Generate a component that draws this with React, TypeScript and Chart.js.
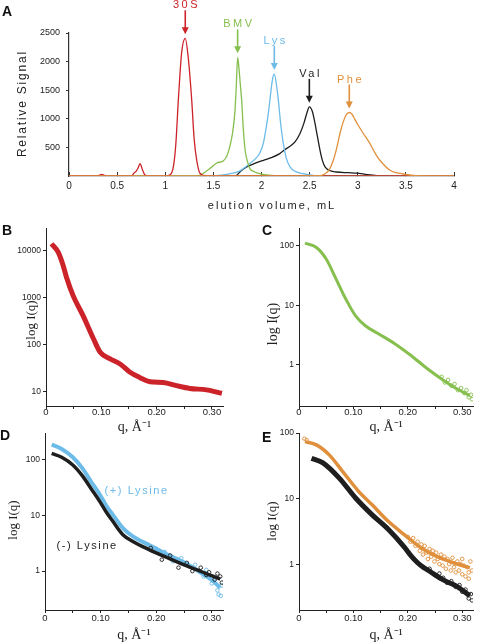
import React, { useEffect, useRef } from 'react';
import { Chart, registerables } from 'chart.js';
Chart.register(...registerables);

const SANS = '"Liberation Sans", Arial, Helvetica, sans-serif';
const SERIF = '"Liberation Serif", "Times New Roman", serif';
const RED = '#cc2229';
const GREEN = '#86bf4e';
const BLUE = '#6cbbe8';
const ORANGE = '#e0903c';
const BLACK = '#1e1e1e';
const INK = '#222';

// ---------- Panel A: elution profiles ----------
const elutionTicks = [0, 0.5, 1, 1.5, 2, 2.5, 3, 3.5, 4];
const signalTicks = [500, 1000, 1500, 2000, 2500];

const s30Vol = [0, 0.28, 0.315, 0.34, 0.365, 0.4, 0.65, 0.675, 0.7, 0.72, 0.738, 0.765, 0.79, 0.83, 1.0, 1.05, 1.084, 1.11, 1.136, 1.17, 1.208, 1.24, 1.275, 1.3, 1.327, 1.36, 1.42, 1.6, 4.0];
const s30Sig = [4, 4, 12, 30, 12, 3, 3, 50, 90, 150, 215, 100, 15, 3, 3, 20, 158, 560, 1326, 2150, 2407, 2050, 1326, 650, 275, 50, 5, 0, 0];

const bmvVol = [0, 1.3, 1.35, 1.42, 1.465, 1.535, 1.6, 1.64, 1.67, 1.7, 1.725, 1.74, 1.752, 1.765, 1.78, 1.794, 1.81, 1.83, 1.86, 1.88, 1.93, 1.98, 2.1, 2.3, 4.0];
const bmvSig = [0, 0, 10, 75, 130, 228, 260, 350, 508, 760, 1151, 1650, 2074, 1900, 1600, 1326, 850, 450, 220, 130, 70, 40, 10, 0, 0];

const lysVol = [0, 1.5, 1.6, 1.7, 1.76, 1.82, 1.88, 1.93, 1.98, 2.02, 2.05, 2.075, 2.095, 2.115, 2.133, 2.155, 2.175, 2.2, 2.227, 2.26, 2.296, 2.35, 2.43, 2.55, 2.7, 4.0];
const lysSig = [0, 0, 20, 50, 75, 140, 217, 290, 392, 580, 858, 1150, 1444, 1700, 1782, 1600, 1326, 900, 567, 300, 158, 80, 40, 8, 0, 0];

const valVol = [0, 1.7, 1.74, 1.78, 1.846, 1.93, 2.02, 2.1, 2.19, 2.25, 2.296, 2.35, 2.4, 2.44, 2.47, 2.497, 2.53, 2.556, 2.58, 2.608, 2.635, 2.66, 2.7, 2.78, 2.9, 2.99, 3.1, 3.2, 3.3, 4.0];
const valSig = [0, 0, 10, 80, 158, 220, 275, 320, 392, 470, 520, 600, 743, 920, 1093, 1209, 1120, 918, 700, 450, 260, 158, 100, 70, 58, 50, 25, 8, 0, 0];

const pheVol = [0, 2.4, 2.6, 2.66, 2.7, 2.746, 2.78, 2.815, 2.85, 2.88, 2.912, 2.94, 2.97, 3.0, 3.058, 3.127, 3.18, 3.23, 3.335, 3.47, 3.6, 4.0];
const pheSig = [3, 3, 5, 40, 100, 275, 480, 743, 950, 1070, 1110, 1080, 990, 900, 743, 567, 400, 275, 100, 35, 8, 3];

const peakLabels = ['30S', 'BMV', 'Lys', 'Val', 'Phe'];
const peakVol = [1.208, 1.752, 2.133, 2.497, 2.912];
const peakSig = [2407, 2074, 1782, 1209, 1110];
const peakColors = [RED, GREEN, BLUE, BLACK, ORANGE];

// ---------- Panels B-E: scattering curves ----------
const qTicks = [0, 0.05, 0.1, 0.15, 0.2, 0.25, 0.3];

const qB = [0.010, 0.022, 0.031, 0.037, 0.049, 0.067, 0.086, 0.098, 0.116, 0.134, 0.152, 0.170, 0.188, 0.212, 0.236, 0.260, 0.290, 0.318];
const iB = [13900, 9200, 4800, 2700, 1100, 414, 132, 69, 50, 39, 26, 20, 16.4, 15.8, 13.5, 11.8, 11, 9.3];
const ticksB = [10, 100, 1000, 10000];

const qC = [0.011, 0.032, 0.050, 0.068, 0.086, 0.104, 0.122, 0.146, 0.176, 0.206, 0.236, 0.266, 0.290, 0.314];
const iC = [111, 94, 60, 27.7, 12.7, 6.6, 4.5, 3.3, 2.25, 1.42, 0.85, 0.54, 0.39, 0.30];
const noiseQC = [0.262, 0.268, 0.274, 0.280, 0.286, 0.292, 0.298, 0.304, 0.308, 0.312, 0.316, 0.318];
const noiseIC = [0.62, 0.50, 0.55, 0.44, 0.47, 0.37, 0.40, 0.33, 0.37, 0.28, 0.31, 0.26];
const ticksCDE = [1, 10, 100];

const qDplus = [0.012, 0.03, 0.05, 0.068, 0.083, 0.098, 0.11, 0.122, 0.140, 0.158, 0.188, 0.219, 0.249, 0.279, 0.303, 0.315];
const iDplus = [186, 155, 110, 68, 40, 24, 15, 10.2, 5.9, 4.2, 2.9, 2.0, 1.45, 0.95, 0.65, 0.5];
const qDminus = [0.012, 0.03, 0.05, 0.068, 0.083, 0.098, 0.11, 0.122, 0.140, 0.158, 0.188, 0.219, 0.249, 0.279, 0.303, 0.315];
const iDminus = [129, 110, 80, 50, 30, 18, 11.5, 7.8, 4.5, 3.4, 2.4, 1.75, 1.3, 1.0, 0.8, 0.72];
const noiseQDplus = [0.20, 0.215, 0.23, 0.245, 0.26, 0.27, 0.285, 0.29, 0.30, 0.305, 0.31, 0.312, 0.316, 0.318];
const noiseIDplus = [2.5, 2.2, 1.5, 1.7, 1.2, 1.3, 0.8, 1.05, 0.6, 0.75, 0.45, 0.38, 0.36, 0.55];
const noiseQDminus = [0.19, 0.21, 0.225, 0.24, 0.255, 0.265, 0.28, 0.29, 0.295, 0.305, 0.31, 0.315, 0.318];
const noiseIDminus = [2.6, 1.6, 1.9, 1.15, 1.4, 1.0, 1.15, 0.85, 0.95, 0.7, 0.9, 0.8, 0.62];
const lysineNotes = ['(+) Lysine', '(-) Lysine'];
const lysineNoteQ = [0.107, 0.0205];
const lysineNoteI = [27.6, 2.8];
const lysineNoteColors = [BLUE, BLACK];

const qEphe = [0.011, 0.032, 0.056, 0.080, 0.110, 0.134, 0.164, 0.194, 0.224, 0.254, 0.284, 0.314];
const iEphe = [74, 66, 46, 26, 12.8, 8.1, 4.5, 2.8, 1.78, 1.3, 1.05, 0.88];
const qEapo = [0.023, 0.044, 0.074, 0.104, 0.134, 0.164, 0.194, 0.206, 0.218, 0.228, 0.236, 0.266, 0.290, 0.314];
const iEapo = [41, 35, 20.5, 10.2, 5.7, 3.4, 1.8, 1.34, 1.05, 0.9, 0.82, 0.57, 0.46, 0.33];
const noiseQEphe = [0.010, 0.014, 0.200, 0.205, 0.210, 0.214, 0.218, 0.222, 0.225, 0.228, 0.231, 0.234, 0.237, 0.240, 0.243, 0.246, 0.249, 0.252, 0.255, 0.258, 0.261, 0.264, 0.267, 0.270, 0.273, 0.276, 0.279, 0.282, 0.285, 0.288, 0.291, 0.294, 0.297, 0.300, 0.303, 0.306, 0.309, 0.312, 0.315, 0.318, 0.312, 0.300];
const noiseIEphe = [82, 78, 2.6, 2.2, 2.5, 1.9, 2.2, 1.6, 2.0, 1.4, 1.9, 1.5, 1.2, 1.7, 1.3, 1.6, 1.1, 1.5, 1.2, 1.0, 1.4, 0.95, 1.3, 0.85, 1.2, 1.0, 0.8, 1.25, 0.9, 0.75, 1.1, 0.8, 1.0, 0.7, 0.95, 0.65, 0.9, 0.75, 1.1, 0.8, 0.6, 1.2];
const noiseQEapo = [0.24, 0.25, 0.258, 0.265, 0.272, 0.28, 0.288, 0.295, 0.30, 0.306, 0.312, 0.316, 0.318];
const noiseIEapo = [0.85, 0.68, 0.72, 0.62, 0.52, 0.55, 0.45, 0.48, 0.38, 0.41, 0.30, 0.35, 0.28];

const pts = (xs: number[], ys: number[]) => xs.map((x, i) => ({ x, y: ys[i] }));

function spacedText(ctx: CanvasRenderingContext2D, text: string, cx: number, cy: number, spacing: number) {
  (ctx as any).letterSpacing = spacing + 'px';
  const w = ctx.measureText(text).width - spacing;
  ctx.textAlign = 'left';
  ctx.textBaseline = 'middle';
  ctx.fillText(text, cx - w / 2, cy);
  (ctx as any).letterSpacing = '0px';
}

function lineSet(data: any[], color: string, width: number) {
  return {
    data, showLine: true, borderColor: color, backgroundColor: color, borderWidth: width,
    pointRadius: 0, tension: 0.4, cubicInterpolationMode: 'monotone' as const,
  };
}
function noiseSet(data: any[], color: string) {
  return {
    data, showLine: false, borderColor: color, backgroundColor: 'rgba(0,0,0,0)', borderWidth: 0.9,
    pointRadius: 1.8, pointStyle: 'circle',
  };
}

const panelAPlugin = {
  id: 'panelA',
  afterDraw(chart: any) {
    const { ctx, chartArea, scales } = chart;
    ctx.save();
    ctx.font = `11px ${SANS}`;
    peakLabels.forEach((lab, i) => {
      const px = scales.x.getPixelForValue(peakVol[i]);
      const py = scales.y.getPixelForValue(peakSig[i]);
      ctx.strokeStyle = peakColors[i];
      ctx.fillStyle = peakColors[i];
      ctx.lineWidth = 1.6;
      ctx.beginPath();
      ctx.moveTo(px, py - 28);
      ctx.lineTo(px, py - 9);
      ctx.stroke();
      ctx.beginPath();
      ctx.moveTo(px - 3.5, py - 11);
      ctx.lineTo(px + 3.5, py - 11);
      ctx.lineTo(px, py - 4);
      ctx.closePath();
      ctx.fill();
      spacedText(ctx, lab, px, py - 33, 2.5);
    });
    ctx.fillStyle = INK;
    ctx.font = `11px ${SANS}`;
    spacedText(ctx, 'elution volume, mL', (chartArea.left + chartArea.right) / 2 + 9.5, chartArea.bottom + 30, 2);
    ctx.font = `12px ${SANS}`;
    ctx.translate(chartArea.left - 46.5, (chartArea.top + chartArea.bottom) / 2);
    ctx.rotate(-Math.PI / 2);
    spacedText(ctx, 'Relative Signal', 0, 0, 1.8);
    ctx.restore();
  },
};

const lysinePlugin = {
  id: 'lysineNotes',
  afterDraw(chart: any) {
    const { ctx, scales } = chart;
    ctx.save();
    ctx.font = `11px ${SANS}`;
    (ctx as any).letterSpacing = '1.6px';
    ctx.textAlign = 'left';
    ctx.textBaseline = 'middle';
    lysineNotes.forEach((t, i) => {
      ctx.fillStyle = lysineNoteColors[i];
      ctx.fillText(t, scales.x.getPixelForValue(lysineNoteQ[i]), scales.y.getPixelForValue(lysineNoteI[i]));
    });
    (ctx as any).letterSpacing = '0px';
    ctx.restore();
  },
};

function makePanelA() {
  return {
    type: 'scatter',
    data: {
      datasets: [
        lineSet(pts(pheVol, pheSig), ORANGE, 1.3),
        lineSet(pts(s30Vol, s30Sig), RED, 1.3),
        lineSet(pts(bmvVol, bmvSig), GREEN, 1.3),
        lineSet(pts(lysVol, lysSig), BLUE, 1.3),
        lineSet(pts(valVol, valSig), BLACK, 1.3),
      ],
    },
    options: {
      responsive: false, animation: false,
      layout: { padding: { left: 0, right: 24, top: 33, bottom: 0 } },
      plugins: { legend: { display: false }, tooltip: { enabled: false } },
      scales: {
        x: {
          type: 'linear', min: 0, max: 4,
          afterBuildTicks: (s: any) => { s.ticks = elutionTicks.map(v => ({ value: v })); },
          afterFit: (s: any) => { s.height = 39; },
          ticks: { font: { family: SANS, size: 10 }, color: INK, padding: 8, maxRotation: 0, autoSkip: false, callback: (v: any) => String(v) },
          grid: { display: true, drawOnChartArea: false, drawTicks: true, tickLength: -4, color: '#333' },
          border: { display: true, color: '#333', width: 1.2 },
        },
        y: {
          type: 'linear', min: 0, max: 2500,
          afterBuildTicks: (s: any) => { s.ticks = signalTicks.map(v => ({ value: v })); },
          afterFit: (s: any) => { s.width = 69; },
          ticks: { font: { family: SANS, size: 9 }, color: INK, padding: 6, callback: (v: any) => String(v) },
          grid: { display: true, drawOnChartArea: false, drawTicks: true, tickLength: 3, color: '#333' },
          border: { display: true, color: '#333', width: 1.2 },
        },
      },
    },
    plugins: [panelAPlugin],
  };
}

function qLabel(v: number) {
  const r = Math.round(v * 10);
  if (Math.abs(v * 10 - r) > 1e-6) return '';
  return r === 0 ? '0' : v.toFixed(2);
}

function makeSaxs(p: {
  datasets: any[]; yMin: number; yMax: number; yTicks: number[]; yWidth: number; padRight: number;
  titleX: number; titleY: number; titleSize: number; xTitlePad: number; xTickPad: number; plugins?: any[];
}) {
  const yTitlePlugin = {
    id: 'yTitle',
    afterDraw(chart: any) {
      const { ctx } = chart;
      ctx.save();
      ctx.fillStyle = INK;
      ctx.font = `${p.titleSize}px ${SERIF}`;
      ctx.translate(p.titleX, p.titleY);
      ctx.rotate(-Math.PI / 2);
      ctx.textAlign = 'center';
      ctx.textBaseline = 'middle';
      ctx.fillText('log I(q)', 0, 0);
      ctx.restore();
    },
  };
  return {
    type: 'scatter',
    data: { datasets: p.datasets },
    options: {
      responsive: false, animation: false,
      layout: { padding: { left: 0, right: p.padRight, top: 8, bottom: 0 } },
      plugins: { legend: { display: false }, tooltip: { enabled: false } },
      scales: {
        x: {
          type: 'linear', min: 0, max: 0.32,
          afterBuildTicks: (s: any) => { s.ticks = qTicks.map(v => ({ value: v })); },
          afterFit: (s: any) => { s.height = 34; },
          ticks: { font: { family: SANS, size: 9.5 }, color: INK, padding: p.xTickPad, maxRotation: 0, autoSkip: false, callback: (v: any) => qLabel(v) },
          grid: { display: true, drawOnChartArea: false, drawTicks: true, tickLength: 3, color: '#222' },
          border: { display: true, color: '#222', width: 1 },
          title: { display: true, text: 'q, Å⁻¹', font: { family: SERIF, size: 14 }, color: INK, padding: { top: 0, bottom: p.xTitlePad } },
        },
        y: {
          type: 'logarithmic', min: p.yMin, max: p.yMax,
          afterBuildTicks: (s: any) => { s.ticks = p.yTicks.map(v => ({ value: v })); },
          afterFit: (s: any) => { s.width = p.yWidth; },
          ticks: { font: { family: SANS, size: 8.5 }, color: INK, padding: 2, callback: (v: any) => String(v) },
          grid: { display: true, drawOnChartArea: false, drawTicks: true, tickLength: 3, color: '#222' },
          border: { display: true, color: '#222', width: 1 },
          title: { display: false },
        },
      },
    },
    plugins: [yTitlePlugin, ...(p.plugins || [])],
  };
}

function ChartBox({ left, top, width, height, make }: { left: number; top: number; width: number; height: number; make: () => any }) {
  const ref = useRef<HTMLCanvasElement>(null);
  useEffect(() => {
    const chart = new Chart(ref.current as HTMLCanvasElement, make());
    return () => chart.destroy();
  }, []);
  return (
    <canvas ref={ref} width={width} height={height}
      style={{ position: 'absolute', left, top, width, height, display: 'block' }} />
  );
}

const letterStyle = (left: number, top: number): React.CSSProperties => ({
  position: 'absolute', left, top, font: `bold 14px ${SANS}`, lineHeight: '14px', color: '#111',
});

export default function App() {
  return (
    <div style={{ position: 'absolute', left: 0, top: 0, width: 478, height: 644, background: '#fff', overflow: 'hidden' }}>
      <ChartBox left={0} top={0} width={478} height={215} make={makePanelA} />
      <ChartBox left={0} top={220} width={239} height={220} make={() => makeSaxs({
        datasets: [lineSet(pts(qB, iB), RED, 5)],
        yMin: 5, yMax: 30000, yTicks: ticksB, yWidth: 46, padRight: 16,
        titleX: 32, titleY: 100, titleSize: 13, xTitlePad: 4.6, xTickPad: -2.5,
      })} />
      <ChartBox left={239} top={220} width={239} height={220} make={() => makeSaxs({
        datasets: [lineSet(pts(qC, iC), GREEN, 3), noiseSet(pts(noiseQC, noiseIC), GREEN)],
        yMin: 0.2, yMax: 200, yTicks: ticksCDE, yWidth: 60, padRight: 1,
        titleX: 34, titleY: 104, titleSize: 14, xTitlePad: 4.6, xTickPad: -2.5,
      })} />
      <ChartBox left={0} top={425} width={239} height={219} make={() => makeSaxs({
        datasets: [
          lineSet(pts(qDminus, iDminus), BLACK, 3.5),
          noiseSet(pts(noiseQDminus, noiseIDminus), BLACK),
          lineSet(pts(qDplus, iDplus), BLUE, 4),
          noiseSet(pts(noiseQDplus, noiseIDplus), BLUE),
        ],
        yMin: 0.2, yMax: 300, yTicks: ticksCDE, yWidth: 45, padRight: 16,
        titleX: 13.5, titleY: 95, titleSize: 13, xTitlePad: 0.6, xTickPad: -0.7,
        plugins: [lysinePlugin],
      })} />
      <ChartBox left={239} top={425} width={239} height={219} make={() => makeSaxs({
        datasets: [
          lineSet(pts(qEphe, iEphe), ORANGE, 3.5),
          noiseSet(pts(noiseQEphe, noiseIEphe), ORANGE),
          lineSet(pts(qEapo, iEapo), BLACK, 5),
          noiseSet(pts(noiseQEapo, noiseIEapo), BLACK),
        ],
        yMin: 0.2, yMax: 100, yTicks: ticksCDE, yWidth: 60, padRight: 1,
        titleX: 34, titleY: 96, titleSize: 13, xTitlePad: 0.6, xTickPad: -0.7,
      })} />
      <div style={letterStyle(2, 4)}>A</div>
      <div style={letterStyle(2, 223)}>B</div>
      <div style={letterStyle(262, 223)}>C</div>
      <div style={letterStyle(0, 428)}>D</div>
      <div style={letterStyle(262, 430)}>E</div>
    </div>
  );
}
